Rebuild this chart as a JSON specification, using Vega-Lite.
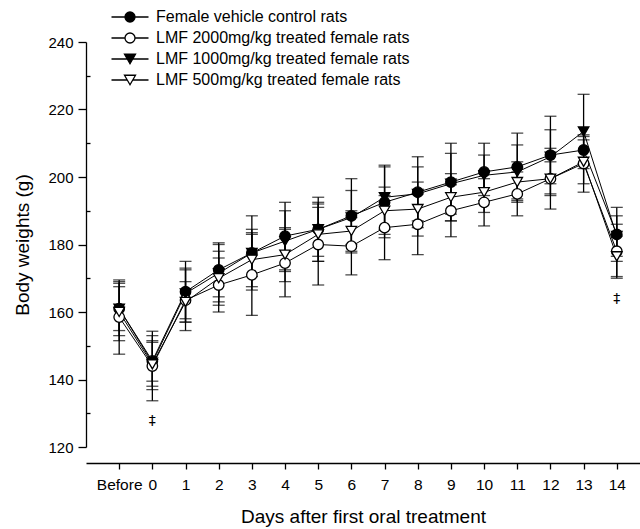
{
  "$schema": "https://vega.github.io/schema/vega-lite/v6.json",
  "width": 554,
  "height": 405,
  "autosize": {"type": "none"},
  "padding": {"left": 86, "top": 42, "right": 0, "bottom": 82},
  "config": {
    "view": {"stroke": null},
    "font": "Liberation Sans",
    "axis": {"grid": false, "domainColor": "black", "tickColor": "black", "labelColor": "black", "titleColor": "black", "domainWidth": 1.3, "tickWidth": 1.3, "titleFontWeight": "normal", "labelFont": "Liberation Sans", "titleFont": "Liberation Sans"},
    "axisX": {"labelOverlap": false, "labelFlush": false, "labelBound": false}
  },
  "datasets": {
    "bw": [
      {"day": -1, "series": "Female vehicle control rats", "mean": 161, "sd": 6.5},
      {"day": 0, "series": "Female vehicle control rats", "mean": 145.5, "sd": 6},
      {"day": 1, "series": "Female vehicle control rats", "mean": 166, "sd": 9},
      {"day": 2, "series": "Female vehicle control rats", "mean": 172.5, "sd": 8},
      {"day": 3, "series": "Female vehicle control rats", "mean": 177.5, "sd": 7},
      {"day": 4, "series": "Female vehicle control rats", "mean": 182.5, "sd": 10},
      {"day": 5, "series": "Female vehicle control rats", "mean": 184.5, "sd": 9.5},
      {"day": 6, "series": "Female vehicle control rats", "mean": 188.5, "sd": 11},
      {"day": 7, "series": "Female vehicle control rats", "mean": 192.5, "sd": 10.5},
      {"day": 8, "series": "Female vehicle control rats", "mean": 195.5, "sd": 10.5},
      {"day": 9, "series": "Female vehicle control rats", "mean": 198.5, "sd": 11.5},
      {"day": 10, "series": "Female vehicle control rats", "mean": 201.5, "sd": 8.5},
      {"day": 11, "series": "Female vehicle control rats", "mean": 203, "sd": 10},
      {"day": 12, "series": "Female vehicle control rats", "mean": 206.5, "sd": 11.5},
      {"day": 13, "series": "Female vehicle control rats", "mean": 208, "sd": 4},
      {"day": 14, "series": "Female vehicle control rats", "mean": 183, "sd": 8},
      {"day": -1, "series": "LMF 2000mg/kg treated female rats", "mean": 158.5, "sd": 11},
      {"day": 0, "series": "LMF 2000mg/kg treated female rats", "mean": 144, "sd": 10.3},
      {"day": 1, "series": "LMF 2000mg/kg treated female rats", "mean": 163.5, "sd": 9},
      {"day": 2, "series": "LMF 2000mg/kg treated female rats", "mean": 168, "sd": 8},
      {"day": 3, "series": "LMF 2000mg/kg treated female rats", "mean": 171, "sd": 12},
      {"day": 4, "series": "LMF 2000mg/kg treated female rats", "mean": 174.5, "sd": 10},
      {"day": 5, "series": "LMF 2000mg/kg treated female rats", "mean": 180, "sd": 12},
      {"day": 6, "series": "LMF 2000mg/kg treated female rats", "mean": 179.5, "sd": 8.5},
      {"day": 7, "series": "LMF 2000mg/kg treated female rats", "mean": 185, "sd": 9.5},
      {"day": 8, "series": "LMF 2000mg/kg treated female rats", "mean": 186, "sd": 9},
      {"day": 9, "series": "LMF 2000mg/kg treated female rats", "mean": 190, "sd": 7.7},
      {"day": 10, "series": "LMF 2000mg/kg treated female rats", "mean": 192.5, "sd": 7},
      {"day": 11, "series": "LMF 2000mg/kg treated female rats", "mean": 195, "sd": 6.5},
      {"day": 12, "series": "LMF 2000mg/kg treated female rats", "mean": 199.5, "sd": 9},
      {"day": 13, "series": "LMF 2000mg/kg treated female rats", "mean": 204, "sd": 8.5},
      {"day": 14, "series": "LMF 2000mg/kg treated female rats", "mean": 178, "sd": 8},
      {"day": -1, "series": "LMF 1000mg/kg treated female rats", "mean": 161, "sd": 8},
      {"day": 0, "series": "LMF 1000mg/kg treated female rats", "mean": 145, "sd": 8},
      {"day": 1, "series": "LMF 1000mg/kg treated female rats", "mean": 165.5, "sd": 7.5},
      {"day": 2, "series": "LMF 1000mg/kg treated female rats", "mean": 171.5, "sd": 8.5},
      {"day": 3, "series": "LMF 1000mg/kg treated female rats", "mean": 177.5, "sd": 11},
      {"day": 4, "series": "LMF 1000mg/kg treated female rats", "mean": 181, "sd": 9},
      {"day": 5, "series": "LMF 1000mg/kg treated female rats", "mean": 184.5, "sd": 8},
      {"day": 6, "series": "LMF 1000mg/kg treated female rats", "mean": 188, "sd": 8},
      {"day": 7, "series": "LMF 1000mg/kg treated female rats", "mean": 194, "sd": 9.5},
      {"day": 8, "series": "LMF 1000mg/kg treated female rats", "mean": 195, "sd": 8},
      {"day": 9, "series": "LMF 1000mg/kg treated female rats", "mean": 198, "sd": 9},
      {"day": 10, "series": "LMF 1000mg/kg treated female rats", "mean": 200.5, "sd": 6},
      {"day": 11, "series": "LMF 1000mg/kg treated female rats", "mean": 201.5, "sd": 8},
      {"day": 12, "series": "LMF 1000mg/kg treated female rats", "mean": 206, "sd": 8},
      {"day": 13, "series": "LMF 1000mg/kg treated female rats", "mean": 213.5, "sd": 11},
      {"day": 14, "series": "LMF 1000mg/kg treated female rats", "mean": 182.5, "sd": 6},
      {"day": -1, "series": "LMF 500mg/kg treated female rats", "mean": 160, "sd": 8.5},
      {"day": 0, "series": "LMF 500mg/kg treated female rats", "mean": 144.5, "sd": 6.5},
      {"day": 1, "series": "LMF 500mg/kg treated female rats", "mean": 163, "sd": 6},
      {"day": 2, "series": "LMF 500mg/kg treated female rats", "mean": 170, "sd": 8},
      {"day": 3, "series": "LMF 500mg/kg treated female rats", "mean": 175.5, "sd": 8},
      {"day": 4, "series": "LMF 500mg/kg treated female rats", "mean": 177, "sd": 8},
      {"day": 5, "series": "LMF 500mg/kg treated female rats", "mean": 183, "sd": 8},
      {"day": 6, "series": "LMF 500mg/kg treated female rats", "mean": 184, "sd": 6},
      {"day": 7, "series": "LMF 500mg/kg treated female rats", "mean": 190, "sd": 7},
      {"day": 8, "series": "LMF 500mg/kg treated female rats", "mean": 190.5, "sd": 8},
      {"day": 9, "series": "LMF 500mg/kg treated female rats", "mean": 194, "sd": 7},
      {"day": 10, "series": "LMF 500mg/kg treated female rats", "mean": 195.5, "sd": 6},
      {"day": 11, "series": "LMF 500mg/kg treated female rats", "mean": 198.5, "sd": 6},
      {"day": 12, "series": "LMF 500mg/kg treated female rats", "mean": 199.5, "sd": 5},
      {"day": 13, "series": "LMF 500mg/kg treated female rats", "mean": 204.5, "sd": 6.5},
      {"day": 14, "series": "LMF 500mg/kg treated female rats", "mean": 176.5, "sd": 6}
    ],
    "notes": [
      {"day": 0, "mean": 127.7, "label": "‡"},
      {"day": 14, "mean": 164, "label": "‡"}
    ]
  },
  "data": {"name": "bw"},
  "encoding": {
    "x": {"field": "day", "type": "quantitative", "scale": {"domain": [-2, 14.7], "nice": false, "zero": false},
      "axis": {"values": [-1, 0, 1, 2, 3, 4, 5, 6, 7, 8, 9, 10, 11, 12, 13, 14], "labelExpr": "datum.value == -1 ? 'Before' : '' + datum.value", "labelOverlap": false, "labelFlush": false, "labelBound": false, "labelSeparation": 0, "tickSize": 6, "offset": 16, "labelFontSize": 15.5, "labelPadding": 8, "title": "Days after first oral treatment", "titleFontSize": 19, "titlePadding": 15, "domain": true}}
  },
  "layer": [
    {
      "mark": {"type": "line", "color": "black", "strokeWidth": 1},
      "encoding": {
        "y": {"field": "mean", "type": "quantitative", "scale": {"domain": [120, 240], "nice": false, "zero": false},
          "axis": {"values": [120, 140, 160, 180, 200, 220, 240], "labelOverlap": false, "tickSize": 8, "labelFontSize": 15, "labelPadding": 5, "title": "Body weights (g)", "titleFontSize": 19, "titlePadding": 15}},
        "detail": {"field": "series", "type": "nominal"}
      }
    },
    {
      "mark": {"type": "errorbar", "color": "black", "ticks": {"size": 12, "thickness": 1.3}, "rule": {"strokeWidth": 1.3}},
      "encoding": {
        "y": {"field": "mean", "type": "quantitative", "axis": null},
        "yError": {"field": "sd"}
      }
    },
    {
      "mark": {"type": "point", "filled": false, "stroke": "black", "strokeWidth": 1.3, "size": 110, "opacity": 1},
      "encoding": {
        "y": {"field": "mean", "type": "quantitative", "axis": null},
        "shape": {"field": "series", "type": "nominal", "legend": null,
          "scale": {"domain": ["Female vehicle control rats", "LMF 2000mg/kg treated female rats", "LMF 1000mg/kg treated female rats", "LMF 500mg/kg treated female rats"], "range": ["circle", "circle", "triangle-down", "triangle-down"]}},
        "fill": {"field": "series", "type": "nominal", "legend": null,
          "scale": {"domain": ["Female vehicle control rats", "LMF 2000mg/kg treated female rats", "LMF 1000mg/kg treated female rats", "LMF 500mg/kg treated female rats"], "range": ["black", "white", "black", "white"]}}
      }
    },
    {
      "transform": [{"filter": "false"}],
      "mark": {"type": "point", "filled": false, "stroke": "black", "strokeWidth": 1.3, "size": 100, "opacity": 1},
      "encoding": {
        "y": {"field": "mean", "type": "quantitative", "axis": null},
        "shape": {"field": "series", "type": "nominal",
          "scale": {"domain": ["Female vehicle control rats", "LMF 2000mg/kg treated female rats", "LMF 1000mg/kg treated female rats", "LMF 500mg/kg treated female rats"],
            "range": [
              "M-3.7,0L-1,0M1,0L3.7,0M1,0A1,1,0,1,1,-1,0A1,1,0,1,1,1,0Z",
              "M-3.7,0L-1,0M1,0L3.7,0M1,0A1,1,0,1,1,-1,0A1,1,0,1,1,1,0Z",
              "M-3.7,0L-0.55,0M0.55,0L3.7,0M-1.1,-0.95L1.1,-0.95L0,0.95Z",
              "M-3.7,0L-0.55,0M0.55,0L3.7,0M-1.1,-0.95L1.1,-0.95L0,0.95Z"
            ]},
          "legend": {"title": null, "orient": "none", "legendX": 36, "legendY": -33, "padding": 0, "labelFontSize": 16, "labelOffset": 18, "rowPadding": 5, "symbolStrokeWidth": 1.3, "symbolSize": 100, "labelColor": "black", "labelLimit": 400}},
        "fill": {"field": "series", "type": "nominal",
          "scale": {"domain": ["Female vehicle control rats", "LMF 2000mg/kg treated female rats", "LMF 1000mg/kg treated female rats", "LMF 500mg/kg treated female rats"], "range": ["black", "white", "black", "white"]},
          "legend": {"title": null, "orient": "none", "legendX": 36, "legendY": -33, "padding": 0, "labelFontSize": 16, "labelOffset": 18, "rowPadding": 5, "symbolStrokeWidth": 1.3, "symbolSize": 100, "labelColor": "black", "labelLimit": 400}}
      }
    },
    {
      "data": {"name": "notes"},
      "mark": {"type": "text", "fontSize": 14, "fill": "black", "color": "black", "font": "DejaVu Sans"},
      "encoding": {
        "y": {"field": "mean", "type": "quantitative",
          "axis": {"orient": "right", "offset": -554, "values": [130, 150, 170, 190, 210, 230], "tickSize": 4, "labels": false, "domain": false, "title": null}},
        "text": {"field": "label"}
      }
    }
  ],
  "resolve": {"scale": {"shape": "independent", "fill": "independent"}, "axis": {"y": "independent"}}
}
